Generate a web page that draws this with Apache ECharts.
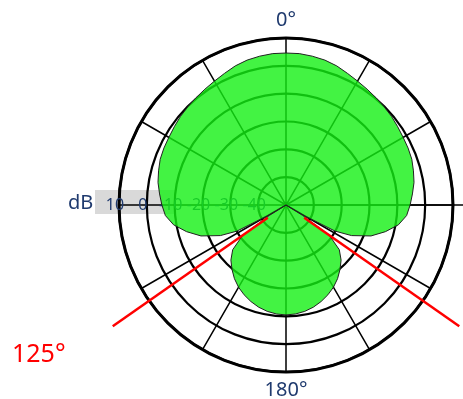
<!DOCTYPE html>
<html><head><meta charset="utf-8">
<script src="https://cdn.jsdelivr.net/npm/echarts@6/dist/echarts.min.js"></script>
<style>html,body{margin:0;padding:0;background:#fff}#c{width:463px;height:399px}</style>
</head><body><div id="c"></div>
<script>
// Compass angles (deg, clockwise from 0° at top) and level in dB
const patternAngles = [0,5,10,15,20,25,30,35,40,45,50,55,60,65,70,75,80,85,90,95,100,105,110,115,118,120,121,122,125,130,135,140,145,150,155,160,165,170,175,180,
  185,190,195,200,205,210,215,220,225,230,235,238,239,240,242,245,250,255,260,265,270,275,280,285,290,295,300,305,310,315,320,325,330,335,340,345,350,355,360];
const patternDb = [4.6,4.6,4.3,3.9,3.2,2.2,1.4,0.8,0.3,-0.1,-0.5,-1.0,-1.4,-1.6,-1.9,-2.6,-3.3,-4.4,-5.4,-6.5,-9.0,-13.0,-17.5,-24,-30,-42,-50,-43,-31,-25,-22,-19.8,-17.7,-15.9,-14.4,-13.1,-12.0,-11.2,-10.7,-10.5,
  -10.7,-11.2,-12.0,-13.1,-14.4,-15.9,-17.7,-19.8,-22,-25,-31,-43,-50,-42,-30,-24,-17.5,-13.0,-9.0,-6.5,-5.4,-4.4,-3.3,-2.6,-1.9,-1.6,-1.4,-1.0,-0.5,-0.1,0.3,0.8,1.4,2.2,3.2,3.9,4.3,4.6,4.6];
const nullAngles = [125, 235];
const nullLineDb = [-42, 26];
const refLineAngle = 90;
const refLineDb = [-50, 18];
const radiusTicks = [10, 0, -10, -20, -30, -40];
const angleTickLabels = {0: '0°', 180: '180°'};
const nullLabel = '125°';
const unitLabel = 'dB';

const NAVY = '#1f3a6e';
const FONT = 'Noto Sans';
const toAxisAngle = t => (t + 90) % 360;

function radialLines(items, color, width, z) {
  return {
    type: 'custom', coordinateSystem: 'polar', z: z, clip: false, silent: true,
    data: items,
    renderItem: (params, api) => {
      const p0 = api.coord([api.value(0), api.value(1)]);
      const p1 = api.coord([api.value(2), api.value(1)]);
      return {type: 'line', shape: {x1: p0[0], y1: p0[1], x2: p1[0], y2: p1[1]},
              style: {stroke: color, lineWidth: width}};
    }
  };
}

const chart = echarts.init(document.getElementById('c'));
const series = [{
  type: 'line', coordinateSystem: 'polar', z: 2,
  data: patternAngles.map((a, i) => [patternDb[i], toAxisAngle(a)]),
  showSymbol: false, symbol: 'none', smooth: false,
  lineStyle: {color: '#222', width: 1},
  areaStyle: {color: '#14f014', opacity: 0.8, origin: 'start'}
},
radialLines(nullAngles.map(a => [nullLineDb[0], toAxisAngle(a), nullLineDb[1]]), '#ff0000', 2.5, 4),
radialLines([[refLineDb[0], toAxisAngle(refLineAngle), refLineDb[1]]], '#000', 1.5, 1)
];

chart.setOption({
  animation: false,
  backgroundColor: '#fff',
  polar: {center: [286, 205], radius: 167},
  angleAxis: {
    type: 'value', min: 0, max: 360, interval: 30, startAngle: 180, clockwise: true,
    axisLine: {show: true, lineStyle: {color: '#000', width: 3}},
    axisTick: {show: false},
    splitLine: {show: true, lineStyle: {color: '#000', width: 1.5}},
    axisLabel: {
      show: true, margin: 8, color: NAVY, fontFamily: FONT, fontSize: 20,
      formatter: v => { const t = ((v - 90) % 360 + 360) % 360; return angleTickLabels[t] || ''; }
    }
  },
  radiusAxis: {
    type: 'value', min: -50, max: 10, interval: 10,
    axisLine: {show: false}, axisTick: {show: false},
    splitLine: {show: true, lineStyle: {color: '#000', width: 2.2}},
    axisLabel: {
      show: true, margin: 0, showMinLabel: true, showMaxLabel: true,
      align: 'center', verticalAlign: 'middle', padding: [0, 8, 0, 0],
      color: NAVY, fontFamily: FONT, fontSize: 16,
      formatter: v => radiusTicks.includes(v) ? String(v) : ''
    }
  },
  graphic: [
    {type: 'rect', z: -10, shape: {x: 95, y: 190, width: 80, height: 24}, style: {fill: '#d9d9d9'}},
    {type: 'text', x: 68, y: 203, style: {text: unitLabel, fill: NAVY, font: '20px "Noto Sans"', verticalAlign: 'middle'}},
    {type: 'text', x: 12, y: 355, style: {text: nullLabel, fill: '#ff0000', font: '25px "Noto Sans"', verticalAlign: 'middle'}}
  ],
  series: series
});
</script></body></html>
